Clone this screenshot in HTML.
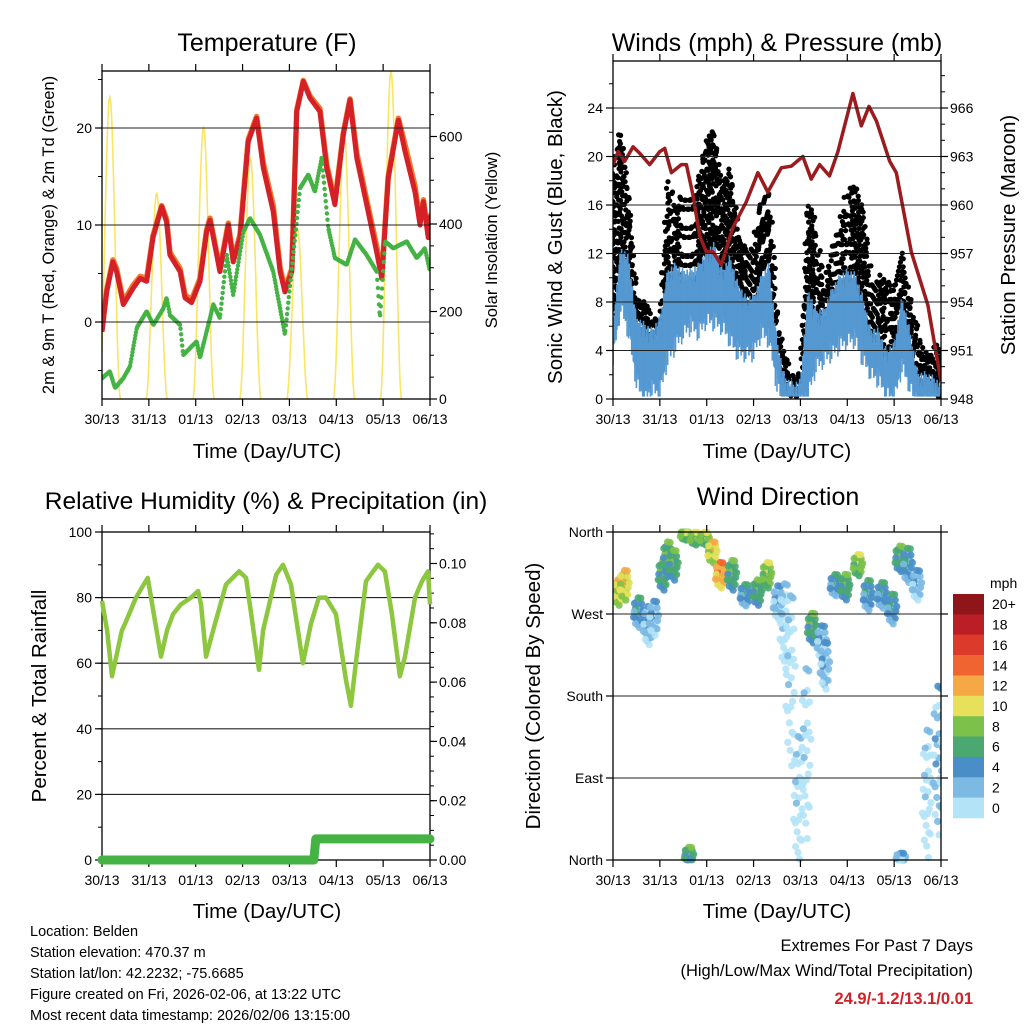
<!DOCTYPE html>
<html><head><meta charset="utf-8"><style>
html,body{margin:0;padding:0;background:#fff;}
svg{display:block;font-family:"Liberation Sans",Arial,sans-serif;}
</style></head><body>
<svg id="chart" width="1024" height="1024" viewBox="0 0 1024 1024" xmlns="http://www.w3.org/2000/svg">
<rect x="0" y="0" width="1024" height="1024" fill="#fff"/>
<g id="p1"></g>
<g id="p2"></g>
<g id="p3"></g>
<g id="p4"></g>
<text x="267" y="51" font-size="25" text-anchor="middle">Temperature (F)</text>
<text x="777" y="51" font-size="25" text-anchor="middle">Winds (mph) &amp; Pressure (mb)</text>
<text x="266" y="509" font-size="24.5" text-anchor="middle">Relative Humidity (%) &amp; Precipitation (in)</text>
<text x="778" y="505" font-size="25" text-anchor="middle">Wind Direction</text>
<text x="267" y="458" font-size="20.5" text-anchor="middle">Time (Day/UTC)</text>
<text x="777" y="458" font-size="20.5" text-anchor="middle">Time (Day/UTC)</text>
<text x="267" y="918" font-size="20.5" text-anchor="middle">Time (Day/UTC)</text>
<text x="777" y="918" font-size="20.5" text-anchor="middle">Time (Day/UTC)</text>
<text transform="translate(54,235) rotate(-90)" font-size="16.5" text-anchor="middle">2m &amp; 9m T (Red, Orange) &amp; 2m Td (Green)</text>
<text transform="translate(497,240) rotate(-90)" font-size="16.5" text-anchor="middle">Solar Insolation (Yellow)</text>
<text transform="translate(562,237) rotate(-90)" font-size="20.5" text-anchor="middle">Sonic Wind &amp; Gust (Blue, Black)</text>
<text transform="translate(1015,235) rotate(-90)" font-size="20.5" text-anchor="middle">Station Pressure (Maroon)</text>
<text transform="translate(46,696) rotate(-90)" font-size="20.5" text-anchor="middle">Percent &amp; Total Rainfall</text>
<text transform="translate(540,696) rotate(-90)" font-size="20.5" text-anchor="middle">Direction (Colored By Speed)</text>
<g font-size="14.5">
<text x="30" y="936">Location: Belden</text>
<text x="30" y="957">Station elevation: 470.37 m</text>
<text x="30" y="978">Station lat/lon: 42.2232; -75.6685</text>
<text x="30" y="999">Figure created on Fri, 2026-02-06, at 13:22 UTC</text>
<text x="30" y="1020">Most recent data timestamp: 2026/02/06 13:15:00</text>
</g>
<g font-size="16.5" text-anchor="end">
<text x="973" y="951">Extremes For Past 7 Days</text>
<text x="973" y="976">(High/Low/Max Wind/Total Precipitation)</text>
<text x="973" y="1004" fill="#d02228" font-weight="bold">24.9/-1.2/13.1/0.01</text>
</g>
<g id="legend"></g>
</svg>
<script>
// ---------- DATA ----------
const dayLabels = ["30/13","31/13","01/13","02/13","03/13","04/13","05/13","06/13"];
const tempHours = [0,2.4,5.6,7.5,10.9,16,19.5,22.9,26.1,30.6,33.1,34.8,40,42.5,45.9,50.2,53.6,55.3,60.4,64.7,67.2,70.7,74.9,79.2,82.6,87.7,91.2,93.7,97.2,99.7,103.1,106.5,111.6,115.1,119.3,123.6,127,130.5,135.6,140.7,143.3,146.6,151.8,155.2,160.3,162.9,164.6,167.1,168];
const temp2m = [-1.0,3.1,6.2,5.2,1.8,3.5,4.5,4.2,8.7,11.9,10.3,6.9,5.2,2.5,2.0,4.2,9.3,10.5,5.2,10.0,6.2,8.7,18.6,21.0,15.9,11.4,5.2,3.1,5.2,21.7,24.8,23.1,21.7,15.9,12.1,19.3,22.9,16.9,12.1,7.2,4.5,14.8,20.8,17.6,13.4,10.0,12.4,8.7,11.0];
const temp9m = [-0.8,3.3,6.4,5.5,2.1,3.8,4.7,4.5,8.9,12.0,10.6,7.2,5.5,2.8,2.3,4.5,9.5,10.7,5.5,10.2,6.5,9.0,18.8,21.2,16.4,12.0,5.6,3.4,5.5,21.8,24.9,23.3,22.0,16.3,12.4,19.5,23.0,17.4,12.6,7.8,4.8,15.0,21.0,18.3,14.0,10.4,12.6,9.0,11.2];
const dewHours = [0,4,6.7,10.9,14.3,17.8,22.9,26.3,31.4,33.1,34.8,40,41.6,48.5,50.2,55.3,57,60.4,63.9,67.2,72.4,75.8,80.9,87.7,93.7,99.7,101.4,105.7,109.1,112.5,115.9,119.3,125.3,129.6,135.6,140.7,142.4,145,149.2,156.1,161.2,165.4,168];
const dewPoint = [-5.8,-5.1,-6.8,-5.8,-4.6,-0.6,1.1,-0.3,1.4,2.5,0.7,-0.3,-3.4,-2.0,-3.7,0.4,1.8,0.4,6.9,2.8,9.3,10.7,9.0,5.2,-1.3,10.3,13.8,15.2,13.4,16.9,9.7,6.6,5.9,8.5,6.9,5.2,0.4,8.3,7.6,8.3,6.6,7.6,5.2];
const solarPeak = [690,470,620,550,390,610,750];

const windHours = [0,4,8,12,16,20,24,28,32,36,40,44,48,52,56,60,64,68,72,76,80,84,88,92,96,100,104,108,112,116,120,124,128,132,136,140,144,148,152,156,160,164,168];
const windHi = [6.4,12.7,11.9,6.9,6.4,5.9,6.9,10.8,11.3,10.8,10.8,11.3,12.4,13.0,10.8,11.9,9.7,8.6,8.6,10.3,11.3,5.0,2.0,1.4,1.7,9.2,7.5,7.5,9.2,10.3,10.8,10.5,8.6,5.9,5.9,4.2,4.7,8.6,5.9,2.3,2.3,2.0,1.4];
const windLo = [4.2,8.6,6.4,2.3,0.9,1.7,1.4,4.2,5.3,6.4,6.9,6.4,7.5,7.2,6.9,5.8,4.7,4.7,4.7,6.4,5.8,2.0,0.4,0.4,0.4,1.4,3.6,4.2,4.7,5.3,5.8,5.8,4.2,3.1,2.5,1.4,0.9,3.6,2.0,0.4,0.4,0.4,0.4];
const gustMax = [19.3,22.7,17.4,9.3,7.8,7.0,6.4,17.9,16.0,17.4,16.6,18.5,21.6,21.9,17.9,19.6,14.1,13.0,12.7,16.8,16.8,7.5,3.6,2.3,2.8,16.8,14.0,9.2,12.7,14.1,17.4,17.4,15.8,10.3,9.7,10.8,9.2,12.4,8.6,5.8,3.6,4.2,4.2];
const pressHours = [0,2.6,6,10.3,13.7,18.8,23.9,26.5,29.9,35,37.6,41,44.4,47.8,51.2,55.5,61.4,68.3,74.2,79.3,86.2,91.3,97.2,101.5,105.8,110.9,115.2,122.9,127.2,131.1,134.9,141.7,145.1,152.8,161.3,168];
const pressure = [962.5,963.3,962.7,963.6,963.2,962.5,963.3,963.5,962.0,962.5,962.5,960.6,958.1,957.1,957.1,956.3,958.6,960.2,962.0,960.8,962.3,962.4,963.0,961.6,962.5,961.8,963.3,966.9,964.9,966.1,965.2,962.7,962.0,957.1,953.8,949.1];

const rhHours = [0,2.6,5.1,10.2,11.8,17.4,23.4,30.2,33.3,36.4,40.5,45.6,49.2,50.7,53.3,56.9,63.5,70.2,73.8,80.4,82.5,89.2,92.7,96.8,102.9,107,111.1,114.7,119.8,124.9,127.5,130,135.2,141.3,144.9,148.5,152.6,155.2,160.3,163.9,167,168];
const rh = [79,70,56,70,72,80,86,62,70,75,78,80,82,78,62,70,84,88,86,58,70,87,90,84,60,72,80,80,75,55,47,60,85,90,88,75,56,62,80,85,88,78];
const precipHours = [0,108.5,109.5,168];
const precipTotal = [0,0,0.0071,0.0071];

const dirHours = [2.6,6,13,18,21,25.6,28,31,37,42,47,51,55,61,67.6,74,79,84.5,88,91,95,99,102,107,108.6,113.7,119,125.5,130.6,137.8,143,147,151,155.7,161,166.5,39,147.5];
const dirDeg = [294,302,272,258,266,313,331,324,357,353,353,338,313,313,291,294,313,283,258,200,68,120,255,239,214,302,300,324,291,291,276,331,324,302,75,112,5,3];
const dirSpread = [12,14,14,18,16,14,16,14,5,6,6,10,12,14,10,12,12,16,40,80,60,80,14,16,22,10,12,10,14,12,14,12,16,14,60,70,8,4];
const dirSpeed = [11,10,4,3,3,6,7,6,8,8,9,11,12,7,5,7,9,2,1,0,0,0,7,3,2,5,6,9,4,4,4,7,4,3,1,2,6,3];

const legendLabels = ["20+","18","16","14","12","10","8","6","4","2","0"];
const legendColors = ["#8f1519","#bb1e24","#dc3a2a","#ef6430","#f5a844","#e6e05a","#7cc24a","#4aa870","#4a8ec8","#7cb9e3","#b3e3f7"];

// ---------- HELPERS ----------
const NS = "http://www.w3.org/2000/svg";
function mk(parent, tag, attrs){const e=document.createElementNS(NS,tag);for(const k in attrs)e.setAttribute(k,attrs[k]);parent.appendChild(e);return e;}
function interp(xs, ys, x){
  if(x<=xs[0])return ys[0];
  for(let i=1;i<xs.length;i++){if(x<=xs[i]){const t=(x-xs[i-1])/(xs[i]-xs[i-1]);return ys[i-1]+t*(ys[i]-ys[i-1]);}}
  return ys[ys.length-1];
}
function pathOf(xs, ys, X, Y){return xs.map((h,i)=>(i?"L":"M")+X(h).toFixed(1)+","+Y(ys[i]).toFixed(1)).join("");}

function frame(g, L, R, T, B, opts){
  opts.leftTicks.forEach(v=>{
    const y=opts.Y(v);
    if(opts.grid && y>T+1 && y<B-1){const ln=mk(g,"line",{x1:L,x2:R,y1:y,y2:y,stroke:"#222","stroke-width":1.1});
      
      }
  });
  const bx=mk(g,"rect",{x:L,y:T,width:R-L,height:B-T,fill:"none",stroke:"#000","stroke-width":1.3});
  
  
  const xt=mk(g,"g",{});
  
  
  dayLabels.forEach((lab,i)=>{
    const x=L+i*(R-L)/7;
    mk(xt,"line",{x1:x,x2:x,y1:B,y2:B+7,stroke:"#000","stroke-width":1.2});
    mk(xt,"line",{x1:x,x2:x,y1:T,y2:T-7,stroke:"#000","stroke-width":1.2});
    const t=mk(xt,"text",{x:x,y:B+25,"font-size":14,"text-anchor":"middle"});t.textContent=lab;
    
    
  });
  const yl=mk(g,"g",{});
  
  
  opts.leftTicks.forEach((v,i)=>{
    const y=opts.Y(v);
    mk(yl,"line",{x1:L-7,x2:L,y1:y,y2:y,stroke:"#000","stroke-width":1.2});
    const t=mk(yl,"text",{x:L-10,y:y+5,"font-size":14,"text-anchor":"end"});t.textContent=opts.leftLabels[i];
    
    
  });
  (opts.leftMinor||[]).forEach(v=>{const y=opts.Y(v);if(y>=T&&y<=B)mk(yl,"line",{x1:L-4,x2:L,y1:y,y2:y,stroke:"#000","stroke-width":1});});
  const yr=mk(g,"g",{});
  
  
  opts.rightTicks.forEach((v,i)=>{
    const y=opts.Y2(v);
    mk(yr,"line",{x1:R,x2:R+7,y1:y,y2:y,stroke:"#000","stroke-width":1.2});
    if(opts.rightLabels){const t=mk(yr,"text",{x:R+9,y:y+5,"font-size":14,"text-anchor":"start"});t.textContent=opts.rightLabels[i];
    
    }
  });
  (opts.rightMinor||[]).forEach(v=>{const y=opts.Y2(v);if(y>=T&&y<=B)mk(yr,"line",{x1:R,x2:R+4,y1:y,y2:y,stroke:"#000","stroke-width":1});});
}
function range(a,b,s){const r=[];for(let v=a;v<=b+1e-9;v+=s)r.push(+v.toFixed(4));return r;}

// ---------- PANEL 1: TEMPERATURE ----------
(function(){
  const g=document.getElementById("p1");
  const L=102,R=430,T=71,B=399;
  const X=h=>L+h*(R-L)/168, Y=v=>322-v*9.7, Ys=s=>B-s*0.4375;
  const clip=mk(g,"clipPath",{id:"c1"});mk(clip,"rect",{x:L,y:T,width:R-L,height:B-T});
  const d=mk(g,"g",{"clip-path":"url(#c1)"});
  solarPeak.forEach((pk,day)=>{
    const pts=[];const c=day*24+4;
    for(let h=-5.5;h<=5.5;h+=0.25){const f=Math.cos(h/5.5*Math.PI/2);pts.push(X(c+h).toFixed(1)+","+Ys(pk*Math.pow(Math.max(f,0),2)).toFixed(1));}
    const p=mk(d,"polyline",{points:pts.join(" "),fill:"none",stroke:"#f9e04a","stroke-width":1.6,opacity:0.85});
    
    
  });
  const o=mk(d,"path",{d:pathOf(tempHours,temp9m,X,Y),fill:"none",stroke:"#f07a2a","stroke-width":5.5,"stroke-linejoin":"round"});
  
  
  const r=mk(d,"path",{d:pathOf(tempHours,temp2m,X,Y),fill:"none",stroke:"#d42026","stroke-width":5,"stroke-linejoin":"round"});
  
  
  const gd=mk(d,"g",{fill:"#45b244"});
  
  
  for(let h=0;h<=168;h+=0.3){mk(gd,"circle",{cx:X(h).toFixed(1),cy:Y(interp(dewHours,dewPoint,h)).toFixed(1),r:2.2});}
  frame(g,L,R,T,B,{Y:Y,Y2:Ys,grid:true,leftTicks:[0,10,20],leftLabels:["0","10","20"],leftMinor:range(-5,25,5),
    rightTicks:[0,200,400,600],rightLabels:["0","200","400","600"],rightMinor:range(0,750,50)});
})();

// ---------- PANEL 2: WINDS ----------
(function(){
  const g=document.getElementById("p2");
  const L=613,R=941,T=61,B=399;
  const X=h=>L+h*(R-L)/168, Y=v=>B-v*12.125, Yp=p=>B-(p-948)/0.75*12.125;
  const clip=mk(g,"clipPath",{id:"c2"});mk(clip,"rect",{x:L,y:T,width:R-L,height:B-T});
  const d=mk(g,"g",{"clip-path":"url(#c2)"});
  const gg=mk(d,"g",{fill:"#000"});
  
  
  let k=0;
  for(let h=0;h<=168;h+=0.5){
    const hi=interp(windHours,gustMax,h), lo=interp(windHours,windHi,h)-1;
    for(let v=lo;v<=hi;v+=1.1){k++;mk(gg,"circle",{cx:(X(h)+((k*37)%5-2)*0.6).toFixed(1),cy:Y(v+((k*53)%7-3)*0.12).toFixed(1),r:2.6});}
  }
  // jagged sonic wind band (vertical strokes)
  const bl=mk(d,"g",{stroke:"#5598d2","stroke-width":1.6});
  
  
  const jag=[0,-1.2,-0.4,-2.0,-0.8,-1.6,-0.2,-2.4,-1.0,-0.6];
  let j=0;
  for(let h=0;h<=168;h+=0.4){
    j++;
    const hi=interp(windHours,windHi,h), lo=interp(windHours,windLo,h);
    const top=Math.max(lo,hi+jag[j%10]*0.6), bot=Math.max(0.2,lo+jag[(j*3)%10]*0.7);
    mk(bl,"line",{x1:X(h).toFixed(1),x2:X(h).toFixed(1),y1:Y(top).toFixed(1),y2:Y(bot).toFixed(1)});
  }
  const p=mk(d,"path",{d:pathOf(pressHours,pressure,X,Yp),fill:"none",stroke:"#9b1b1e","stroke-width":3.5,"stroke-linejoin":"round"});
  
  
  frame(g,L,R,T,B,{Y:Y,Y2:Yp,grid:true,leftTicks:range(0,24,4),leftLabels:range(0,24,4).map(String),leftMinor:range(0,28,2),
    rightTicks:range(948,966,3),rightLabels:range(948,966,3).map(String),rightMinor:range(948,969,1)});
})();

// ---------- PANEL 3: RH ----------
(function(){
  const g=document.getElementById("p3");
  const L=102,R=430,T=532,B=860;
  const X=h=>L+h*(R-L)/168, Y=v=>B-v*3.28, Yr=v=>B-v*2965;
  frame(g,L,R,T,B,{Y:Y,Y2:Yr,grid:true,leftTicks:range(0,100,20),leftLabels:range(0,100,20).map(String),leftMinor:range(0,100,10),
    rightTicks:range(0,0.10,0.02),rightLabels:["0.00","0.02","0.04","0.06","0.08","0.10"],rightMinor:range(0,0.11,0.005)});
  const clip=mk(g,"clipPath",{id:"c3"});mk(clip,"rect",{x:L-6,y:T,width:R-L+12,height:B-T+8});
  const d=mk(g,"g",{"clip-path":"url(#c3)"});
  const pr=mk(d,"path",{d:pathOf(precipHours,precipTotal,X,Yr),fill:"none",stroke:"#45b244","stroke-width":9,"stroke-linecap":"round","stroke-linejoin":"round"});
  
  
  const r=mk(d,"path",{d:pathOf(rhHours,rh,X,Y),fill:"none",stroke:"#8dc63f","stroke-width":4.5,"stroke-linejoin":"round"});
  
  
})();

// ---------- PANEL 4: WIND DIRECTION ----------
(function(){
  const g=document.getElementById("p4");
  const L=613,R=941,T=532,B=860;
  const X=h=>L+h*(R-L)/168, Y=v=>B-v*(B-T)/360;
  const clip=mk(g,"clipPath",{id:"c4"});mk(clip,"rect",{x:L,y:T-4,width:R-L,height:B-T+8});
  const d=mk(g,"g",{"clip-path":"url(#c4)"});
  const offs=[];
  for(let n=0;n<26;n++){const a=n*2.39996, rr=Math.sqrt((n+0.5)/26);offs.push([Math.cos(a)*rr,Math.sin(a)*rr]);}
  dirHours.forEach((h,i)=>{
    const ci=Math.min(10,Math.floor(dirSpeed[i]/2));
    const col=legendColors[10-ci];
    offs.forEach((o,j)=>{
      let v=dirDeg[i]+o[1]*dirSpread[i]*1.3;if(v>360)v=360-(v-360)*0.2;if(v<0)v=-v*0.2;
      const c=mk(d,"circle",{cx:X(h+o[0]*2.6).toFixed(1),cy:Y(v).toFixed(1),r:3.6,fill:(j%3==2&&ci>0)?legendColors[11-ci]:(j%5==4&&ci<10?legendColors[9-ci]:col),opacity:0.9});
      
      
    });
  });
  [90,180,270].forEach(v=>{const ln=mk(g,"line",{x1:L,x2:R,y1:Y(v),y2:Y(v),stroke:"#222","stroke-width":1.1});
    
    });
  frame(g,L,R,T,B,{Y:Y,Y2:Y,grid:false,leftTicks:[0,90,180,270,360],leftLabels:["North","East","South","West","North"],
    rightTicks:[0,90,180,270,360]});
})();

// ---------- LEGEND ----------
(function(){
  const g=document.getElementById("legend");
  const t=mk(g,"text",{x:990,y:588,"font-size":14});t.textContent="mph";
  
  
  const h=224/11;
  legendColors.forEach((c,i)=>{
    const r=mk(g,"rect",{x:953,y:(594+i*h).toFixed(1),width:31,height:(h+0.3).toFixed(1),fill:c});
    
    
    const l=mk(g,"text",{x:992,y:(594+i*h+h/2+5).toFixed(1),"font-size":14});l.textContent=legendLabels[i];
    
    
  });
})();
</script>
</body></html>
